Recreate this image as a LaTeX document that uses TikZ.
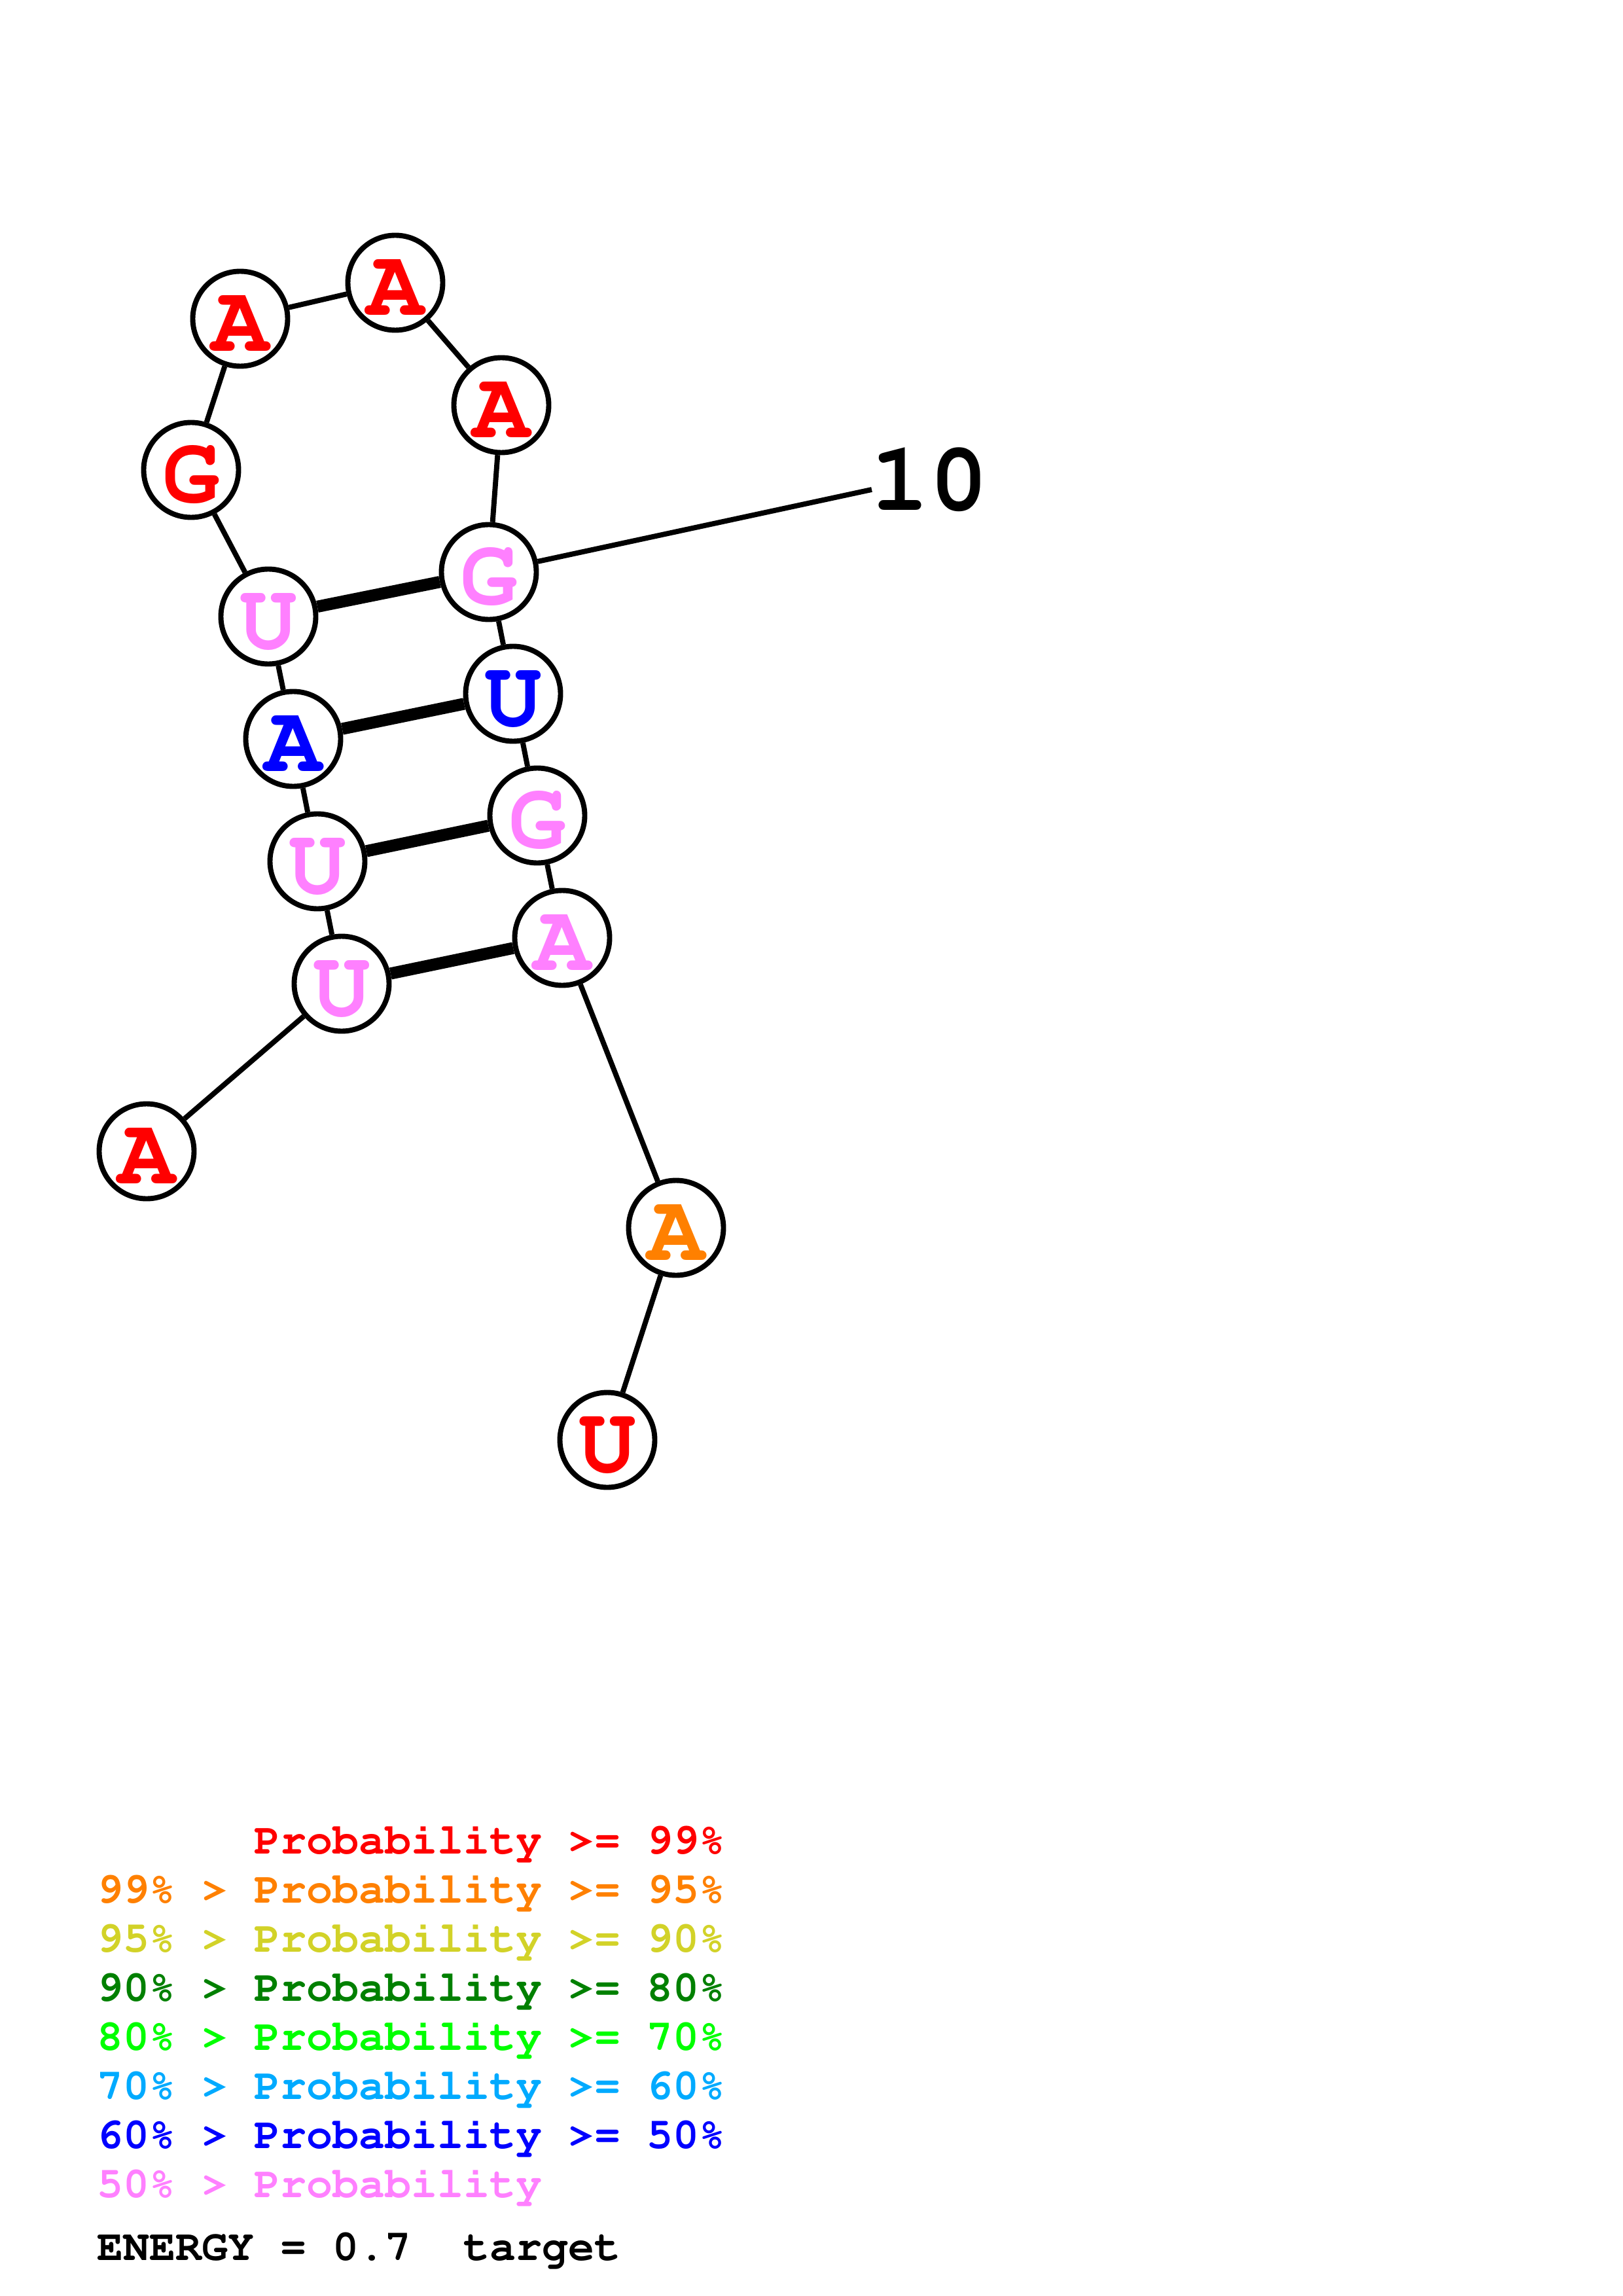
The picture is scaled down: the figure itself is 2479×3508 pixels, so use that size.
\documentclass[tikz,border=0pt]{standalone}
\usepackage[T1,TU]{fontenc}
\usetikzlibrary{positioning}
\newcommand\courbf[1]{\fontencoding{T1}\fontfamily{pcr}\fontseries{b}\fontshape{n}\fontsize{#1}{#1}\selectfont}
\definecolor{cRed}{RGB}{255,0,0}
\definecolor{cOrange}{RGB}{255,128,0}
\definecolor{cYellow}{RGB}{210,210,40}
\definecolor{cDkGreen}{RGB}{0,128,0}
\definecolor{cGreen}{RGB}{0,255,0}
\definecolor{cLtBlue}{RGB}{0,170,255}
\definecolor{cBlue}{RGB}{0,0,255}
\definecolor{cPink}{RGB}{255,128,255}
\tikzset{
  nt/.style={circle, draw=black, line width=1.9pt, fill=white, minimum size=34.8pt,
    inner sep=0pt, font=\courbf{35pt}, text height=23.6pt, text depth=0pt},
  bb/.style={line width=1.9pt},
  bp/.style={line width=4.4pt},
  leg/.style={anchor=base west, inner sep=0pt, font=\courbf{16pt}},
}
\begin{document}
\begin{tikzpicture}[x=0.24pt,y=-0.24pt]
\useasboundingbox (0,0) rectangle (2479,3508);
% nucleotides
\node[nt, text=cRed]    (n1)  at (224,1759) {A};
\node[nt, text=cPink]   (n2)  at (522,1503) {U};
\node[nt, text=cPink]   (n3)  at (485,1316) {U};
\node[nt, text=cBlue]   (n4)  at (448,1129) {A};
\node[nt, text=cPink]   (n5)  at (410,942)  {U};
\node[nt, text=cRed]    (n6)  at (292,718)  {G};
\node[nt, text=cRed]    (n7)  at (367,487)  {A};
\node[nt, text=cRed]    (n8)  at (604,432)  {A};
\node[nt, text=cRed]    (n9)  at (766,619)  {A};
\node[nt, text=cPink]   (n10) at (747,874)  {G};
\node[nt, text=cBlue]   (n11) at (784,1060) {U};
\node[nt, text=cPink]   (n12) at (821,1246) {G};
\node[nt, text=cPink]   (n13) at (859,1433) {A};
\node[nt, text=cOrange] (n14) at (1033,1876) {A};
\node[nt, text=cRed]    (n15) at (928,2200) {U};
% backbone
\draw[bb] (n1)--(n2) (n2)--(n3) (n3)--(n4) (n4)--(n5) (n5)--(n6) (n6)--(n7)
  (n7)--(n8) (n8)--(n9) (n9)--(n10) (n10)--(n11) (n11)--(n12) (n12)--(n13)
  (n13)--(n14) (n14)--(n15);
% pairs
\draw[bp] (n5)--(n10) (n4)--(n11) (n3)--(n12) (n2)--(n13);
% index label
\coordinate (c10) at (1332,748);
\node[anchor=base west, inner sep=0pt, font=\courbf{36pt}] (lab10) at (1330,780) {10};
\draw[bb] (n10)--(c10);
% legend
\node[leg, text=cRed]     (l1) at (388,2832) {Probability >= 99\%};
\node[leg, text=cOrange]  (l2) at (148,2907) {99\% > Probability >= 95\%};
\node[leg, text=cYellow]  (l3) at (148,2982) {95\% > Probability >= 90\%};
\node[leg, text=cDkGreen] (l4) at (148,3057) {90\% > Probability >= 80\%};
\node[leg, text=cGreen]   (l5) at (148,3132) {80\% > Probability >= 70\%};
\node[leg, text=cLtBlue]  (l6) at (148,3207) {70\% > Probability >= 60\%};
\node[leg, text=cBlue]    (l7) at (148,3282) {60\% > Probability >= 50\%};
\node[leg, text=cPink]    (l8) at (148,3357) {50\% > Probability};
\node[leg, text=black]    (en) at (148,3453) {ENERGY = 0.7\ \ target};
\end{tikzpicture}
\end{document}
